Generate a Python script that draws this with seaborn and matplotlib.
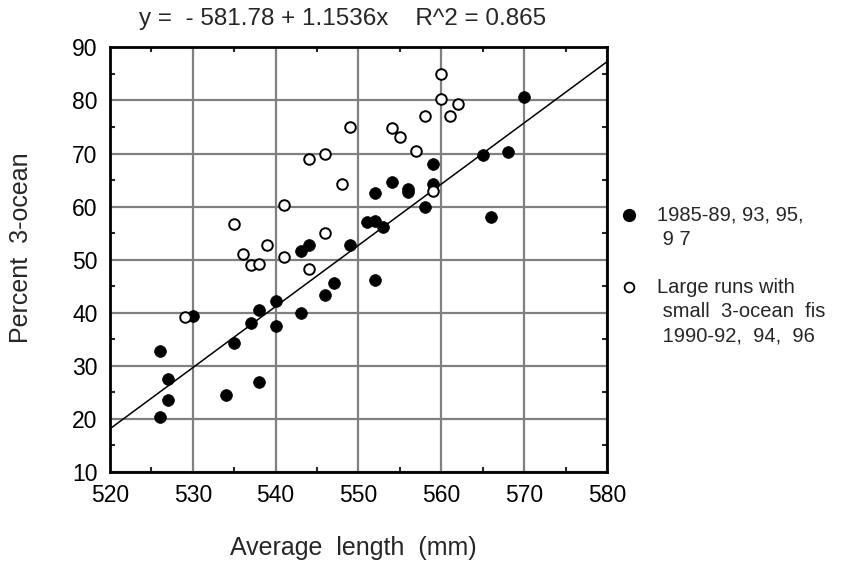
import numpy as np
import pandas as pd
import matplotlib
matplotlib.use("Agg")
import matplotlib.pyplot as plt
from matplotlib.lines import Line2D
from matplotlib.ticker import MultipleLocator
import seaborn as sns

# filled circles: 1985-89, 93, 95, 97
main_len = [526, 526, 527, 527, 530, 534, 535, 537, 538, 538, 540, 540, 543, 543,
            544, 546, 547, 549, 551, 552, 552, 552, 553, 554, 556, 556, 558, 559,
            559, 565, 566, 568, 570]
main_pct = [32.7, 20.3, 27.5, 23.6, 39.4, 24.5, 34.2, 38.1, 40.5, 27.0, 42.1, 37.5, 40.0, 51.6,
            52.8, 43.3, 45.5, 52.8, 57.0, 57.3, 62.5, 46.2, 56.1, 64.6, 63.3, 62.8, 60.0, 68.0,
            64.2, 69.7, 58.0, 70.3, 80.6]

# open circles: large runs with small 3-ocean fish
large_len = [529, 535, 536, 537, 538, 539, 541, 541, 544, 544, 546, 546, 548, 549,
             554, 555, 557, 558, 559, 560, 560, 561, 562]
large_pct = [39.1, 56.7, 51.0, 49.0, 49.2, 52.8, 60.3, 50.5, 69.0, 48.3, 70.0, 55.0, 64.3, 75.0,
             74.9, 73.1, 70.4, 77.0, 63.0, 85.0, 80.3, 77.0, 79.4]

# fitted line from the printed equation
intercept = -581.78
slope = 1.1536
r2 = 0.865
line_x = [520, 580]

x_ticks = [520, 530, 540, 550, 560, 570, 580]
y_ticks = [10, 20, 30, 40, 50, 60, 70, 80, 90]

legend_lines = [
    ["1985-89, 93, 95,", " 9 7"],
    ["Large runs with", " small  3-ocean  fis", " 1990-92,  94,  96"],
]

sns.set_style("white")
plt.rcParams['font.family'] = ['Liberation Sans', 'DejaVu Sans']

fig = plt.figure(figsize=(8.46, 5.68), dpi=100)
ax = fig.add_axes([0.130, 0.1695, 0.5875, 0.747])

df_main = pd.DataFrame({"len": main_len, "pct": main_pct})
df_large = pd.DataFrame({"len": large_len, "pct": large_pct})
df_line = pd.DataFrame({"len": line_x})
df_line["pct"] = intercept + slope * df_line["len"]

sns.lineplot(data=df_line, x="len", y="pct", color="black", linewidth=1.1, ax=ax, zorder=2)
sns.scatterplot(data=df_main, x="len", y="pct", color="black", s=72, edgecolor="black",
                linewidth=0.5, ax=ax, zorder=3)
sns.scatterplot(data=df_large, x="len", y="pct", color="white", s=58, edgecolor="black",
                linewidth=1.4, ax=ax, zorder=4)

ax.set_xlim(520, 580)
ax.set_ylim(10, 90)
ax.set_xticks(x_ticks)
ax.set_yticks(y_ticks)
ax.xaxis.set_minor_locator(MultipleLocator(5))
ax.yaxis.set_minor_locator(MultipleLocator(5))
ax.grid(True, which="major", color="#808080", linewidth=1.6)
ax.set_axisbelow(True)
ax.tick_params(which="major", length=0, labelsize=16.5, pad=9, colors="black")
ax.tick_params(which="minor", direction="in", length=3.5, width=1.5,
               top=True, right=True, bottom=True, left=True)
for sp in ax.spines.values():
    sp.set_linewidth(2)
    sp.set_color("black")

ax.set_xlabel("Average  length  (mm)", fontsize=18)
ax.set_ylabel("Percent  3-ocean", fontsize=18)
ax.xaxis.set_label_coords(0.49, -0.152)
ax.yaxis.set_label_coords(-0.155, 0.528)

fig.text(0.405, 0.966, f"y =  - {abs(intercept):.2f} + {slope}x    R^2 = {r2}",
         ha="center", va="center", fontsize=17.5)

# legend drawn at the right side
marker_y = [0.6215, 0.4947]
styles = [dict(markerfacecolor="black", markeredgecolor="black", markersize=8.5),
          dict(markerfacecolor="white", markeredgecolor="black", markersize=7,
               markeredgewidth=1.3)]
for my, st, lines in zip(marker_y, styles, legend_lines):
    fig.add_artist(Line2D([0.7435], [my], marker="o", linestyle="none",
                          transform=fig.transFigure, **st))
    for i, t in enumerate(lines):
        fig.text(0.7766, my - i * 0.0435, t, ha="left", va="center", fontsize=14.5)

fig.savefig("out.png", dpi=100)
